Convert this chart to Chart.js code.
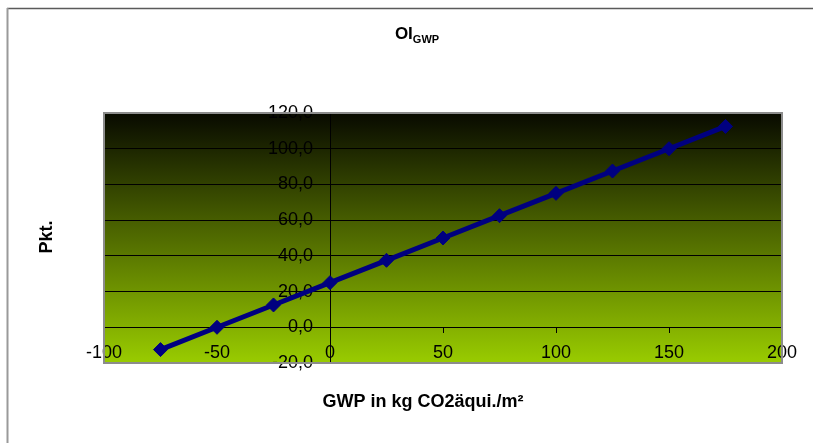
<!DOCTYPE html>
<html>
<head>
<meta charset="utf-8">
<script src="https://cdn.jsdelivr.net/npm/chart.js@4.4.0/dist/chart.umd.min.js"></script>
<style>
  body { margin: 0; background: #fff; }
  canvas { display: block; }
</style>
</head>
<body>
<canvas id="grafico" width="814" height="443"></canvas>
<script>
// values
const gwpWerte = [-75, -50, -25, 0, 25, 50, 75, 100, 125, 150, 175];
const punkte = [-12.5, 0, 12.5, 25, 37.5, 50, 62.5, 75, 87.5, 100, 112.5];
const xTicks = [-100, -50, 0, 50, 100, 150, 200];
const yTicks = [-20, 0, 20, 40, 60, 80, 100, 120];

const schrift = '"Liberation Sans", Arial, sans-serif';

// gradient plot area, frame and the titles
const excelLook = {
  id: "excelLook",
  beforeDraw(chart) {
    const { ctx, chartArea: a } = chart;

    // y labels of an axis placed at x=0 sit right on the line, push them left
    chart.scales.y.getLabelItems().forEach((it) => {
      it.options.translation[0] -= 17;
    });

    const g = ctx.createLinearGradient(0, a.top, 0, a.bottom);
    g.addColorStop(0, "#080a00");
    g.addColorStop(1, "#99cc00");
    ctx.save();
    ctx.fillStyle = g;
    ctx.fillRect(a.left, a.top, a.right - a.left, a.bottom - a.top);

    // outer chart frame
    ctx.strokeStyle = "#5a5a5a";
    ctx.lineWidth = 1.5;
    ctx.beginPath();
    ctx.moveTo(7, 8.5);
    ctx.lineTo(813, 8.5);
    ctx.stroke();
    ctx.strokeStyle = "#9a9a9a";
    ctx.lineWidth = 2;
    ctx.beginPath();
    ctx.moveTo(7.5, 8);
    ctx.lineTo(7.5, 443);
    ctx.stroke();
    ctx.restore();
  },
  beforeDatasetsDraw(chart) {
    const { ctx, chartArea: a } = chart;
    ctx.save();
    ctx.strokeStyle = "#8c8c8c";
    ctx.lineWidth = 2;
    ctx.strokeRect(a.left, a.top, a.right - a.left, a.bottom - a.top);
    ctx.restore();
  },
  afterDraw(chart) {
    const { ctx } = chart;
    ctx.save();
    ctx.fillStyle = "#000";
    ctx.textBaseline = "alphabetic";

    // title OI with subscript GWP
    ctx.font = "bold 17px " + schrift;
    const w1 = ctx.measureText("OI").width;
    ctx.font = "bold 11px " + schrift;
    const w2 = ctx.measureText("GWP").width;
    const x0 = 417 - (w1 + w2) / 2;
    ctx.font = "bold 17px " + schrift;
    ctx.fillText("OI", x0, 39);
    ctx.font = "bold 11px " + schrift;
    ctx.fillText("GWP", x0 + w1, 43);

    // x axis title
    ctx.font = "bold 18px " + schrift;
    ctx.textAlign = "center";
    ctx.fillText("GWP in kg CO2äqui./m²", 423, 407);

    // y axis title
    ctx.translate(52, 237);
    ctx.rotate(-Math.PI / 2);
    ctx.fillText("Pkt.", 0, 0);
    ctx.restore();
  }
};

const ctx = document.getElementById("grafico").getContext("2d");
new Chart(ctx, {
  type: "scatter",
  data: {
    datasets: [
      {
        label: "OI GWP",
        data: gwpWerte.map((x, i) => ({ x: x, y: punkte[i] })),
        showLine: true,
        borderColor: "#000080",
        borderWidth: 5,
        backgroundColor: "#000080",
        pointStyle: "rectRot",
        pointRadius: 7,
        pointBorderWidth: 1,
        pointBorderColor: "#000080",
        pointBackgroundColor: "#000080",
      },
    ],
  },
  options: {
    responsive: false,
    animation: false,
    layout: { padding: { left: 104, top: 113, right: 32, bottom: 80 } },
    plugins: {
      legend: { display: false },
      tooltip: { enabled: false },
    },
    scales: {
      x: {
        type: "linear",
        position: { y: 0 },
        min: -100,
        max: 200,
        afterBuildTicks: (s) => { s.ticks = xTicks.map((v) => ({ value: v })); },
        ticks: { color: "#000", font: { family: schrift, size: 18 }, padding: 10 },
        grid: { drawOnChartArea: false, color: "#000", tickLength: 5 },
        border: { color: "#000", width: 1 },
      },
      y: {
        type: "linear",
        position: { x: 0 },
        min: -20,
        max: 120,
        afterBuildTicks: (s) => { s.ticks = yTicks.map((v) => ({ value: v })); },
        ticks: {
          color: "#000",
          font: { family: schrift, size: 18 },
          callback: (v) => v.toFixed(1).replace(".", ","),
        },
        grid: { color: "#000", tickLength: 5 },
        border: { color: "#000", width: 1 },
      },
    },
  },
  plugins: [excelLook],
});
</script>
</body>
</html>
